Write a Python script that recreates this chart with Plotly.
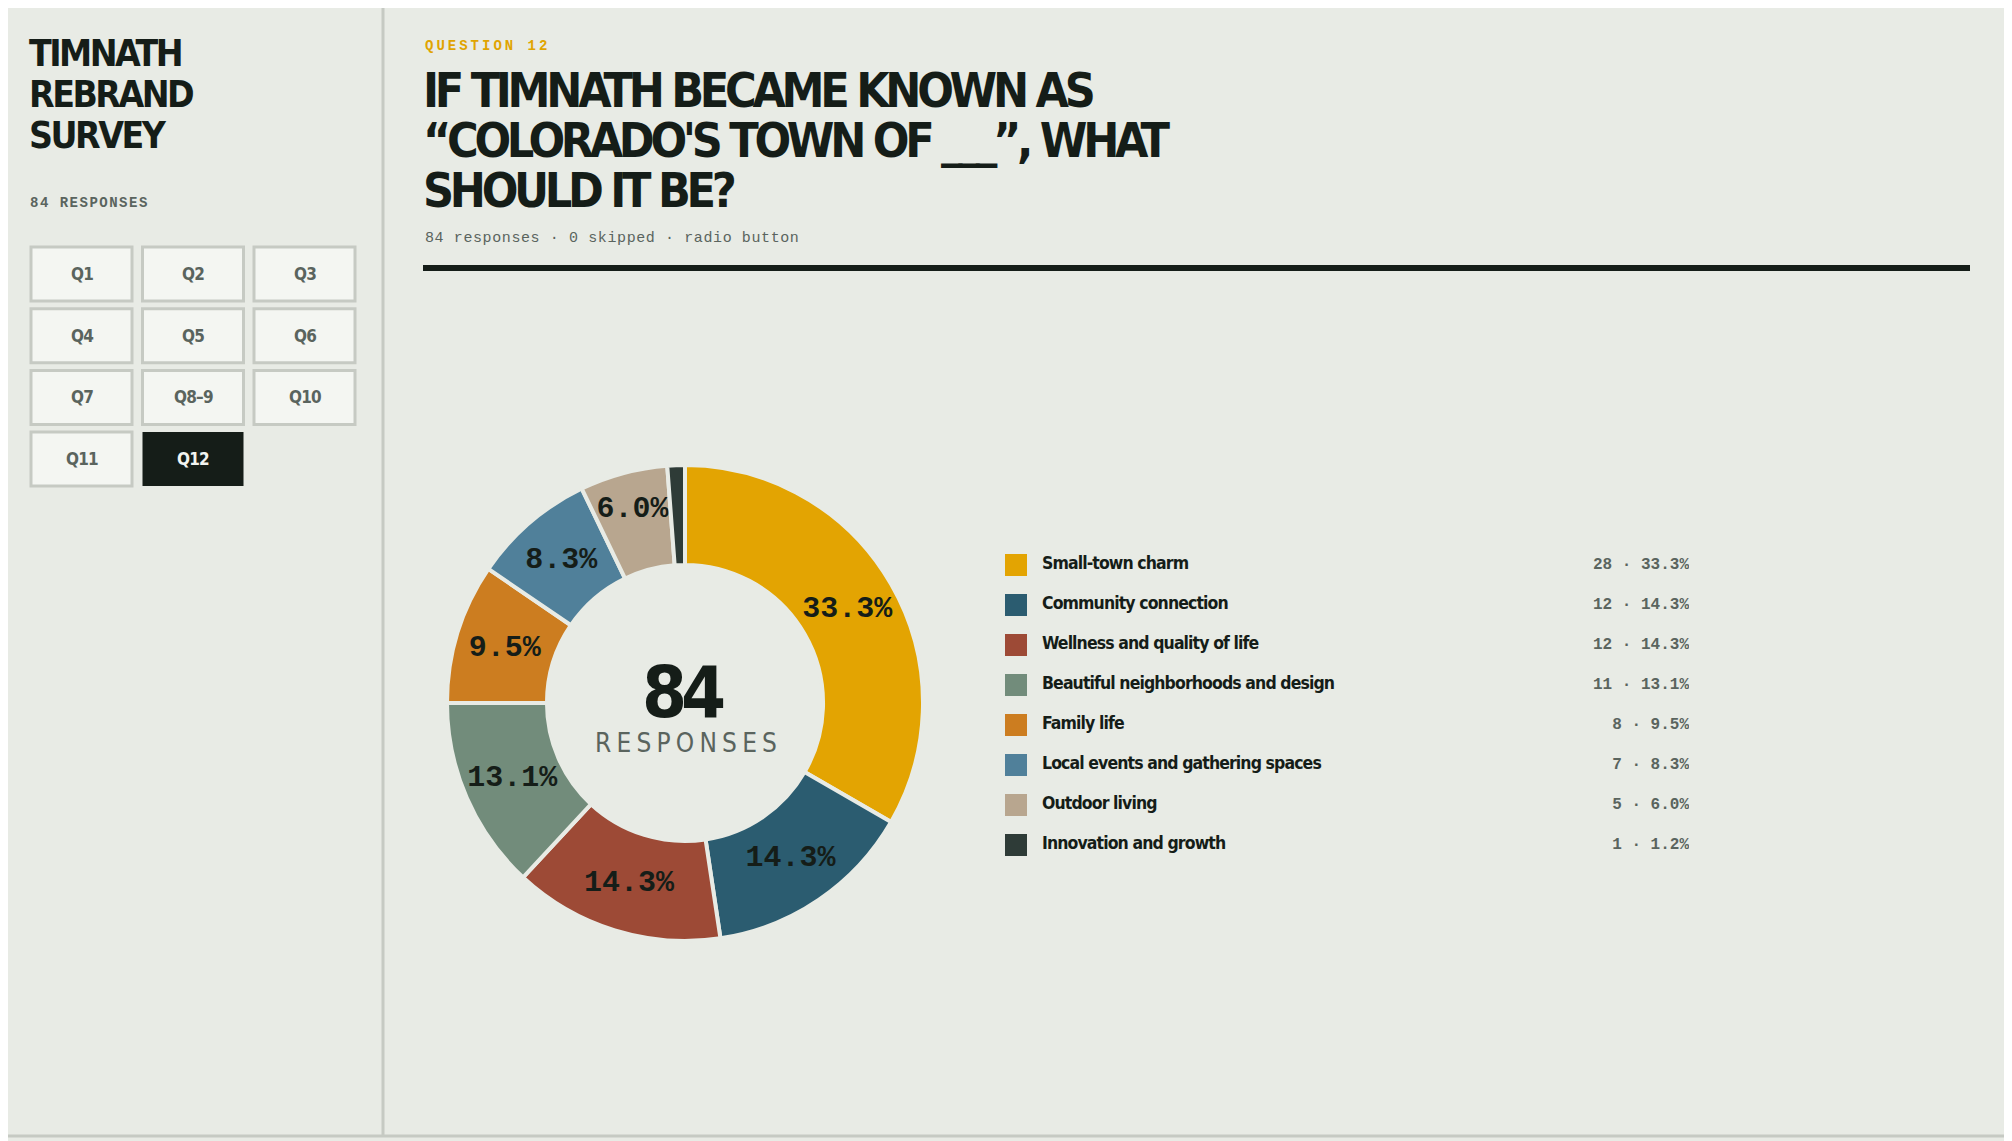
import plotly.graph_objects as go

# survey answers for Q12
labels = ["Small-town charm", "Community connection", "Wellness and quality of life",
          "Beautiful neighborhoods and design", "Family life", "Local events and gathering spaces",
          "Outdoor living", "Innovation and growth"]
counts = [28, 12, 12, 11, 8, 7, 5, 1]
colors = ["#e3a402", "#2b5c70", "#9d4a36", "#728c7b", "#cc7d20", "#50809a", "#b8a68f", "#2e3b37"]
buttons = ["Q1", "Q2", "Q3", "Q4", "Q5", "Q6", "Q7", "Q8–9", "Q10", "Q11", "Q12"]
active = "Q12"

total = sum(counts)
PAGE_W, PAGE_H = 2012, 1141
OFF = 8  # the page body margin, the figure starts 8px in
W, H = PAGE_W - OFF, PAGE_H - OFF
BG = "#e8ebe5"
DARK = "#151d18"
GRAY = "#5a645e"
BORDER = "#c6cac3"
COND = "DejaVu Sans Condensed, Roboto, sans-serif"
MONO = "Liberation Mono, DejaVu Sans Mono, monospace"


def px(x):
    # page pixel -> paper fraction
    return (x - OFF) / W


def py(y):
    return 1 - (y - OFF) / H


def tight(t, ls):
    return f'<span style="letter-spacing:{ls}px">{t}</span>'


fig = go.Figure()

# donut
cx, cy, r = 685, 703, 238
slice_text = [f"{c / total * 100:.1f}%" if c / total > 0.03 else "" for c in counts]
fig.add_trace(go.Pie(
    values=counts, labels=labels, text=slice_text, texttemplate="%{text}",
    sort=False, direction="clockwise", rotation=0, hole=0.58,
    marker=dict(colors=colors, line=dict(color=BG, width=4)),
    textposition="inside", insidetextorientation="horizontal",
    textfont=dict(family=MONO, size=30, color=DARK, weight="bold"),
    domain=dict(x=[px(cx - r), px(cx + r)], y=[py(cy + r), py(cy - r)]),
    showlegend=False, hoverinfo="skip",
))

# legend built as a small chart of its own
leg_x0, leg_x1 = 1005, 1689
fig.add_trace(go.Scatter(
    x=[11 / (leg_x1 - leg_x0)] * len(labels), y=labels, mode="markers",
    marker=dict(symbol="square", size=22, color=colors, line=dict(width=0)),
    showlegend=False, hoverinfo="skip",
))
fig.add_trace(go.Scatter(
    x=[37 / (leg_x1 - leg_x0)] * len(labels), y=labels, mode="text",
    text=[tight(f"<b>{l}</b>", -0.9) for l in labels],
    textposition="middle right",
    textfont=dict(family=COND, size=17.5, color=DARK),
    showlegend=False, hoverinfo="skip",
))
fig.add_trace(go.Scatter(
    x=[1] * len(labels), y=labels, mode="text",
    text=[f"{c} · {c / total * 100:.1f}%" for c in counts],
    textposition="middle left",
    textfont=dict(family=MONO, size=16, color=GRAY, weight="bold"),
    showlegend=False, hoverinfo="skip",
))

shapes = []
ann = []

# outer frame and sidebar divider
shapes.append(dict(type="rect", xref="paper", yref="paper", x0=px(2), x1=px(2010), y0=py(1136), y1=py(2),
                   line=dict(color=BORDER, width=3), fillcolor="rgba(0,0,0,0)"))
shapes.append(dict(type="line", xref="paper", yref="paper", x0=px(383), x1=px(383), y0=py(1136), y1=py(2),
                   line=dict(color=BORDER, width=3)))
# heading rule
shapes.append(dict(type="rect", xref="paper", yref="paper", x0=px(423), x1=px(1970), y0=py(271), y1=py(265),
                   line=dict(width=0), fillcolor=DARK))

# sidebar
for i, t in enumerate(["TIMNATH", "REBRAND", "SURVEY"]):
    ann.append(dict(text=tight(f"<b>{t}</b>", -2.5), x=px(27), y=py(54 + i * 41), xanchor="left", yanchor="middle",
                    font=dict(family=COND, size=37, color=DARK)))
ann.append(dict(text=tight(f"<b>{total} RESPONSES</b>", 1.5), x=px(28), y=py(203),
                xanchor="left", yanchor="middle", font=dict(family=MONO, size=14, color=GRAY)))

for i, b in enumerate(buttons):
    col, row = i % 3, i // 3
    x0 = 31 + col * 111.5
    y0 = 247 + row * 61.7
    on = b == active
    shapes.append(dict(type="rect", xref="paper", yref="paper", x0=px(x0), x1=px(x0 + 101),
                       y0=py(y0 + 54), y1=py(y0),
                       line=dict(color=DARK if on else BORDER, width=0 if on else 3),
                       fillcolor=DARK if on else "#f4f6f2"))
    ann.append(dict(text=tight(f"<b>{b}</b>", -0.8), x=px(x0 + 50.5), y=py(y0 + 27), xanchor="center",
                    yanchor="middle", font=dict(family=COND, size=17, color="#f2f4f0" if on else GRAY)))

# heading
ann.append(dict(text=tight("<b>QUESTION 12</b>", 3), x=px(423), y=py(46),
                xanchor="left", yanchor="middle", font=dict(family=MONO, size=14, color="#e0a400")))
for i, t in enumerate(["IF TIMNATH BECAME KNOWN AS", "“COLORADO'S TOWN OF ___”, WHAT", "SHOULD IT BE?"]):
    ann.append(dict(text=tight(f"<b>{t}</b>", -4.3), x=px(421), y=py(90 + i * 50), xanchor="left",
                    yanchor="middle", font=dict(family=COND, size=48, color=DARK)))
ann.append(dict(text=tight(f"{total} responses · 0 skipped · radio button", 0.6),
                x=px(423), y=py(238), xanchor="left", yanchor="middle",
                font=dict(family=MONO, size=15, color=GRAY)))

# donut centre
ann.append(dict(text=tight(f"<b>{total}</b>", -6), x=px(cx - 2), y=py(692), xanchor="center", yanchor="middle",
                font=dict(family=COND, size=72, color=DARK)))
ann.append(dict(text=tight("RESPONSES", 5.2), x=px(cx + 3), y=py(743),
                xanchor="center", yanchor="middle", font=dict(family=COND, size=26, color=GRAY)))

for a in ann:
    a.update(xref="paper", yref="paper", showarrow=False)

fig.update_layout(
    width=W, height=H, margin=dict(l=0, r=0, t=0, b=0),
    paper_bgcolor=BG, plot_bgcolor="rgba(0,0,0,0)",
    shapes=shapes, annotations=ann,
    uniformtext=dict(minsize=30, mode="show"),
    xaxis=dict(domain=[px(leg_x0), px(leg_x1)], range=[0, 1], visible=False, fixedrange=True),
    yaxis=dict(domain=[py(845 + 20), py(565 - 20)], range=[len(labels) - 0.5, -0.5], type="category",
               visible=False, fixedrange=True),
)

fig.write_html("out.html", config={"displayModeBar": False})
